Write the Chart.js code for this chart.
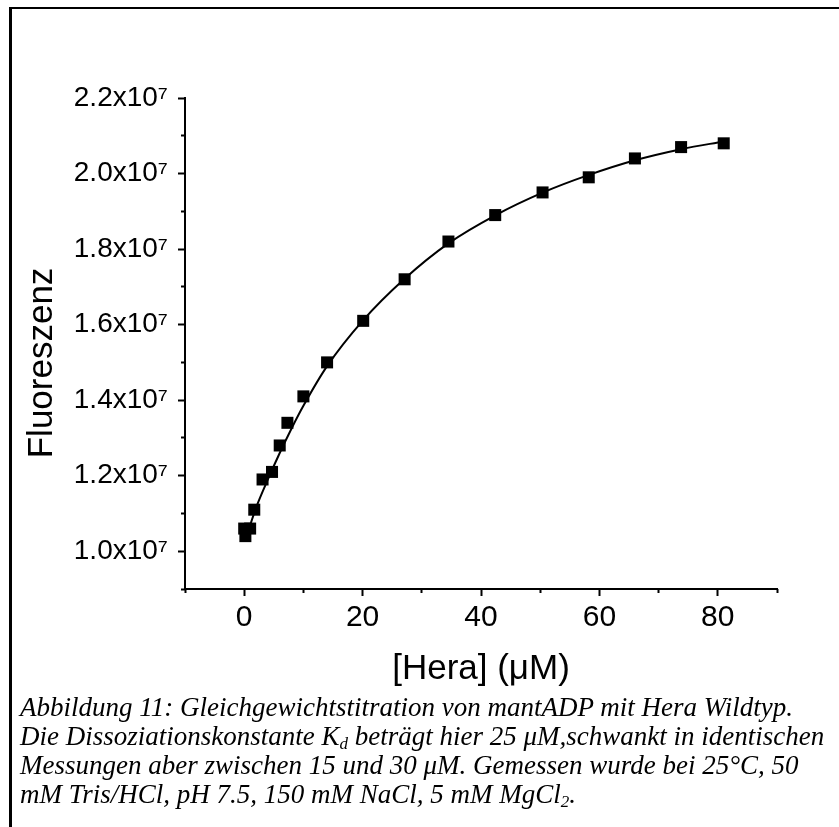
<!DOCTYPE html>
<html>
<head>
<meta charset="utf-8">
<script src="https://cdn.jsdelivr.net/npm/chart.js@4/dist/chart.umd.min.js"></script>
<style>
  body { margin: 0; background: #fff; }
  #wrap { position: relative; width: 839px; height: 827px; overflow: hidden; }
  #frame { position: absolute; left: 9px; top: 7px; width: 900px; height: 900px;
           border-left: 3px solid #000; border-top: 2px solid #000; }
  #chart { position: absolute; left: 0; top: 0; }
  #caption { position: absolute; left: 20px; top: 693px; white-space: nowrap;
             font-family: "Liberation Serif", "Times New Roman", serif; font-style: italic;
             font-size: 27px; line-height: 29px; color: #000; }
  #caption sub { font-size: 17px; line-height: 0; vertical-align: -4px; }
</style>
</head>
<body>
<div id="wrap">
  <div id="frame"></div>
  <canvas id="chart" width="839" height="700"></canvas>
  <div id="caption">Abbildung 11: Gleichgewichtstitration von mantADP mit Hera Wildtyp.<br>Die Dissoziationskonstante K<sub>d</sub> beträgt hier 25 μM,schwankt in identischen<br>Messungen aber zwischen 15 und 30 μM. Gemessen wurde bei 25°C, 50<br>mM Tris/HCl, pH 7.5, 150 mM NaCl, 5 mM MgCl<sub>2</sub>.</div>
</div>
<script>
// Messpunkte (Hera-Konzentration in µM, Fluoreszenz)
const heraConc = [0, 0.2, 1.0, 1.7, 3.1, 4.7, 6.0, 7.3, 10.0, 14.0, 20.1, 27.1, 34.5, 42.4, 50.4, 58.2, 66.0, 73.8, 81.0];
const fluorescence = [1.06e7, 1.04e7, 1.06e7, 1.11e7, 1.19e7, 1.21e7, 1.28e7, 1.34e7, 1.41e7, 1.50e7, 1.61e7, 1.72e7,
                      1.82e7, 1.89e7, 1.95e7, 1.99e7, 2.04e7, 2.07e7, 2.08e7];

// Fitkurve
const fitConc = [0.5, 2, 4, 6, 8, 10, 14, 20, 27, 34.5, 42.5, 50.5, 58, 66, 74, 81];
const fitFluor = [1.045e7, 1.115e7, 1.19e7, 1.26e7, 1.325e7, 1.385e7, 1.49e7, 1.61e7, 1.72e7, 1.815e7,
                  1.89e7, 1.95e7, 1.995e7, 2.035e7, 2.065e7, 2.085e7];

// Achsenticks
const xMajorTicks = [0, 20, 40, 60, 80];
const xMinorTicks = [-10, 10, 30, 50, 70, 90];
const yMajorTicks = [1.0e7, 1.2e7, 1.4e7, 1.6e7, 1.8e7, 2.0e7, 2.2e7];
const yMinorTicks = [0.9e7, 1.1e7, 1.3e7, 1.5e7, 1.7e7, 1.9e7, 2.1e7];

const toPoints = (xs, ys) => xs.map((x, i) => ({ x: x, y: ys[i] }));
const setTicks = arr => scale => { scale.ticks = arr.map(v => ({ value: v })); };

const font = "'Liberation Sans', Arial, sans-serif";

const minorGrid = { drawOnChartArea: false, color: "#000", tickLength: 4, tickWidth: 2 };

new Chart(document.getElementById("chart"), {
    type: "line",
    data: {
        datasets: [{
            label: "Messwerte",
            data: toPoints(heraConc, fluorescence),
            showLine: false,
            pointStyle: "rect",
            pointRadius: 8.5,
            pointBackgroundColor: "#000",
            pointBorderWidth: 0,
            order: 0
        }, {
            label: "Fit",
            data: toPoints(fitConc, fitFluor),
            borderColor: "#000",
            borderWidth: 2,
            pointRadius: 0,
            cubicInterpolationMode: "monotone",
            fill: false,
            order: 1
        }]
    },
    options: {
        responsive: false,
        animation: false,
        devicePixelRatio: 1,
        events: [],
        layout: { padding: { top: 98, right: 62, bottom: 0, left: 0 } },
        plugins: { legend: { display: false }, tooltip: { enabled: false } },
        scales: {
            x: {
                type: "linear", position: "bottom", weight: 1,
                min: -10, max: 90,
                afterBuildTicks: setTicks(xMajorTicks),
                afterFit: s => { s.height = 111; },
                grid: { drawOnChartArea: false, color: "#000", tickLength: 7, tickWidth: 2 },
                border: { display: true, color: "#000", width: 2 },
                ticks: { color: "#000", padding: 4, maxRotation: 0, font: { family: font, size: 30 } },
                title: { display: true, text: "[Hera] (μM)", color: "#000",
                         padding: { top: 0, bottom: 10 }, font: { family: font, size: 35 } }
            },
            x2: {
                type: "linear", position: "bottom", weight: 0,
                min: -10, max: 90,
                afterBuildTicks: setTicks(xMinorTicks),
                afterFit: s => { s.height = 0; },
                grid: minorGrid,
                border: { display: false },
                ticks: { display: false }
            },
            y: {
                type: "linear", position: "left", weight: 1,
                min: 0.9e7, max: 2.2e7,
                afterBuildTicks: setTicks(yMajorTicks),
                afterFit: s => { s.width = 185; },
                grid: { drawOnChartArea: false, color: "#000", tickLength: 7, tickWidth: 2 },
                border: { display: true, color: "#000", width: 2 },
                ticks: {
                    color: "#000", padding: 10, font: { family: font, size: 28 },
                    callback: v => (v / 1e7).toFixed(1) + "x10\u2077"
                },
                title: { display: true, text: "Fluoreszenz\u00A0\u00A0\u00A0\u00A0", color: "#000",
                         padding: { top: 21, bottom: 0 }, font: { family: font, size: 35 } }
            },
            y2: {
                type: "linear", position: "left", weight: 0,
                min: 0.9e7, max: 2.2e7,
                afterBuildTicks: setTicks(yMinorTicks),
                afterFit: s => { s.width = 0; },
                grid: minorGrid,
                border: { display: false },
                ticks: { display: false }
            }
        }
    }
});
</script>
</body>
</html>
